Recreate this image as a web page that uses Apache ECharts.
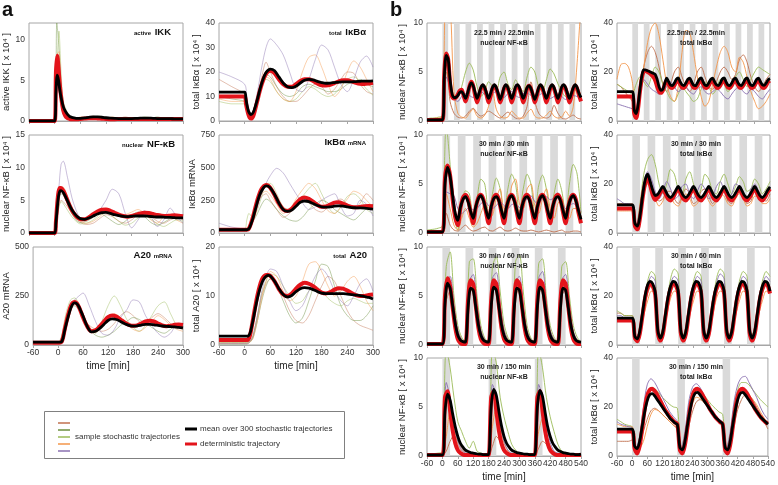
<!DOCTYPE html>
<html><head><meta charset="utf-8">
<script src="https://cdn.jsdelivr.net/npm/echarts@6/dist/echarts.min.js"></script>
<style>html,body{margin:0;padding:0;background:#fff}#c{width:778px;height:485px}</style>
</head><body><div id="c"></div>
<script>
// ---------------- DATA ----------------
// panel a time grids
const tA = [-60,-30,0,3,6,9,12,15,20,25,30,35,40,45,50,55,60,70,80,90,100,110,120,130,140,150,160,170,180,190,200,210,220,230,240,250,260,270,280,290,300];
const tAs = [-60,-30,0,5,10,15,20,30,40,50,60,75,90,105,120,135,150,165,180,195,210,225,240,255,270,285,300];

// a1 active IKK
const ikkMean = [0,0,0,3.5,5.6,5.0,3.8,2.9,1.8,1.2,0.8,0.55,0.45,0.38,0.33,0.32,0.33,0.38,0.45,0.5,0.5,0.46,0.4,0.35,0.32,0.3,0.3,0.3,0.3,0.32,0.35,0.36,0.35,0.33,0.3,0.28,0.28,0.28,0.27,0.27,0.26];
const ikkDet = [0,0,0,6.0,8.0,6.5,4.5,3.0,1.3,0.6,0.35,0.25,0.2,0.2,0.2,0.22,0.25,0.3,0.35,0.35,0.32,0.28,0.25,0.22,0.22,0.24,0.26,0.26,0.25,0.24,0.24,0.25,0.25,0.24,0.23,0.23,0.23,0.23,0.23,0.23,0.23];
const ikkRust = [0,0,0,7,4,2,1,0.5,0.3,0.2,0.2,0.4,0.6,0.3,0.2,0.1,0.3,0.5,0.3,0.2,0.4,0.3,0.2,0.3,0.2,0.2,0.3];
const ikkDkGreen = [0,0,0,12,9,4,1.5,0.6,0.3,0.2,0.1,0.3,0.2,0.5,0.3,0.2,0.2,0.3,0.4,0.2,0.2,0.3,0.5,0.3,0.2,0.3,0.2];
const ikkGreen = [0,0,0,6,11,6,2.5,1,0.4,0.3,0.2,0.2,0.4,0.6,0.4,0.2,0.2,0.3,0.2,0.3,0.5,0.4,0.2,0.2,0.3,0.2,0.2];
const ikkOrange = [0,0,0,8,8.5,4,1.5,0.7,0.4,0.3,0.5,0.4,0.3,0.2,0.3,0.5,0.3,0.2,0.2,0.4,0.3,0.2,0.3,0.4,0.2,0.2,0.2];
const ikkPurple = [0,0,0,5,7,3.5,1.5,0.6,0.3,0.2,0.2,0.3,0.5,0.4,0.2,0.3,0.2,0.4,0.3,0.2,0.2,0.3,0.2,0.2,0.3,0.3,0.2];

// a2 total IkBa
const ikbMean = [11.8,11.8,11.8,9,6,4,3,2.6,3.5,6,9,12.5,15.5,18,19.8,20.8,21.2,20.5,18,15.5,14,13.6,14.2,15.5,16.6,17,16.8,16.2,15.7,15.4,15.5,15.7,15.9,16,16,16,16.1,16.2,16.3,16.3,16.4];
const ikbDet = [10,10,10,7,4.5,2.5,1.3,1.0,2,5,8.5,12,15,17.5,19.2,20.2,20.5,19.5,17,15,14,14,15,16.3,17,17,16.3,15.3,14.6,14.5,14.8,15.5,16.2,16.6,16.6,16.2,15.6,15.2,15.1,15.3,15.6];
const ikbPurple = [20,18,15,10,5,3,4,12,22,30,33.5,31,27,20,13,12,17,25,31,29,22,15,12,17,24,26.5,22];
const ikbOrange = [9,8,8,6,3,2,3,8,15,18,17,12,9,8,12,20,26,27,22,15,10,13,20,24.5,22,17,12];
const ikbGreen = [8,7,7,5,3,2,2.5,9,15,17,16,12,9,8,9,12,14,13,11,10,11,14,17,18,16,13,10.5];
const ikbRust = [17,14,11,8,4,2,3,10,18,24,20,14,10,8,8,10,13,15,14,11,13,17,20,19.5,15,12,11];
const ikbDkGreen = [10,9,8,6,3,1.5,2.5,9,16,19,18,14,11,10,11,14,15,14,13,12,12,13,15,16,17,15,14];

// a3 nuclear NF-kB
const nfkMean = [0,0,0,1.5,3.8,5.6,6.4,6.5,6.2,5.6,4.9,4.2,3.6,3.1,2.7,2.4,2.2,2.1,2.3,2.6,2.9,3.1,3.15,3.0,2.8,2.65,2.55,2.5,2.55,2.6,2.6,2.6,2.55,2.5,2.45,2.45,2.4,2.4,2.35,2.3,2.3];
const nfkDet = [0,0,0,1.8,4.5,6.3,6.9,6.9,6.5,5.8,5.0,4.2,3.5,3.0,2.6,2.3,2.1,2.1,2.4,2.9,3.3,3.55,3.6,3.4,3.1,2.8,2.6,2.5,2.6,2.8,3.0,3.1,3.05,2.9,2.75,2.65,2.6,2.65,2.7,2.65,2.55];
const nfkPurple = [0,0,0,3,7,10.5,11,8.5,5.5,3.5,2.3,2,2.5,3.5,5,6.7,6,3,0.8,2,3.4,2.5,1,2,3.8,2.5,1.5];
const nfkOrange = [0,0,0,2.5,5.5,7,7,5.5,3.5,2.3,1.8,1.5,1.8,2.5,3.2,3,2.5,2.8,3.2,3.6,3,2,1.5,2.5,2.7,2,1.5];
const nfkRust = [0,0,0,2,4,5,4.8,4,3,2.2,1.6,1.3,1.5,2.2,2.8,2.5,1.8,1.5,2,2.8,3,2.5,1.8,1.5,2,2.3,2];
const nfkGreen = [0,0,0,2,4,4.8,4.5,3.5,2.5,1.8,1.4,1.5,2,2.8,3.3,2.6,1.8,1.2,1.5,2.3,2.8,2.2,1.4,1,1.5,2,1.8];
const nfkDkGreen = [0,0,0,2.5,5,6,5.8,4.5,3,2,1.6,1.8,2.4,3,2.5,1.8,1.3,1.8,2.7,3.2,2.5,1.6,1.2,1.6,2.2,2.5,2.2];

// a4 IkBa mRNA
const ikbmMean = [25,25,25,25,26,30,45,70,120,180,240,290,325,350,360,358,345,295,230,180,165,175,205,235,245,240,225,210,200,198,200,205,207,205,200,195,193,192,190,187,183];
const ikbmDet = [25,25,25,25,26,30,48,75,130,195,255,305,340,360,368,362,345,290,225,180,168,185,225,260,272,262,240,215,200,203,218,232,235,225,210,200,197,200,205,207,205];
const ikbmPurple = [75,45,30,25,30,60,110,200,300,380,440,495,460,380,300,230,180,200,250,280,300,200,130,150,250,220,130];
const ikbmGreen = [20,20,30,100,150,130,110,180,280,380,380,300,200,180,240,280,340,380,300,200,150,200,280,300,260,180,150];
const ikbmOrange = [20,18,20,25,40,80,140,220,300,320,290,220,150,180,260,330,380,340,250,170,150,200,260,320,300,250,200];
const ikbmRust = [30,25,25,30,60,100,150,230,280,300,250,180,120,150,220,260,230,180,160,200,240,260,220,180,230,300,250];
const ikbmDkGreen = [20,20,20,25,30,60,90,150,220,260,240,180,130,100,90,120,180,220,250,230,180,150,120,100,140,190,220];

// a5 A20 mRNA
const a20mMean = [15,15,15,15,15,18,35,65,110,150,185,208,215,210,195,172,148,95,67,70,85,105,125,133,130,120,108,100,96,97,102,105,105,103,100,97,95,94,92,90,87];
const a20mDet = [12,12,12,12,13,18,38,70,118,160,195,215,220,213,195,168,140,95,70,75,95,120,142,150,145,130,115,103,98,100,110,120,124,120,110,100,96,98,103,104,102];
const a20mPurple = [10,10,15,20,40,80,130,200,230,250,265,200,120,60,50,80,140,180,230,220,150,100,60,40,60,100,90];
const a20mGreen = [15,15,15,25,60,120,170,230,240,210,150,90,60,120,200,250,200,130,90,70,100,150,200,220,160,100,80];
const a20mOrange = [12,12,12,20,50,100,150,210,230,200,140,90,70,90,130,160,140,110,80,70,90,120,150,130,100,80,70];
const a20mRust = [15,12,12,20,50,90,140,200,220,190,140,100,80,70,80,110,150,170,150,120,110,140,160,140,110,90,80];
const a20mDkGreen = [10,10,10,15,40,80,120,180,200,180,130,80,50,40,50,70,100,120,140,130,110,90,70,60,80,100,90];

// a6 total A20
const a20Mean = [1.8,1.8,1.8,1.8,1.8,1.9,2.3,3.2,5.2,7.5,9.6,11.3,12.6,13.5,14,14.2,14.1,13,11.5,10.3,9.8,10.1,10.9,11.5,11.7,11.6,11.3,10.9,10.6,10.5,10.5,10.5,10.5,10.5,10.4,10.3,10.2,10.1,9.9,9.7,9.4];
const a20Det = [1,1,1,1,1,1.2,1.8,3,5.5,8,10.2,12,13.3,14,14.3,14.3,14.1,13,11.4,10.3,10,10.5,11.5,12.3,12.7,12.5,12,11.3,10.7,10.5,10.8,11.3,11.6,11.5,11.1,10.6,10.2,10.0,10.0,10.2,10.3];
const a20Purple = [0.3,0.3,0.3,0.3,0.5,1,2,6,11,14,15.5,15,12,9,7,8,11,14,15.5,14,11,9,8,10,12.5,13.5,11];
const a20Green = [0.5,0.5,0.5,0.5,0.7,1,2,6,10.5,13,14.5,14,12,10,8.5,9,11,12,11,9.5,8.5,8,9,9.5,9,8.5,8.5];
const a20Orange = [0.3,0.3,0.3,0.3,0.5,0.8,1.5,5,9.5,13,15,14,11,9,10,13,16.5,17,15,12,10,11,13,14,12,9,7];
const a20Rust = [0.5,0.5,0.5,0.5,0.7,1,2,6,10,12.5,13.5,12.5,10,7,5,4.5,6,9,12,14,13,10,7,5,4,3.5,3];
const a20DkGreen = [0.2,0.2,0.2,0.2,0.4,0.8,1.5,5,9,12,13.5,12,9,6,4.5,5.5,9,13,16.5,16,12,8,6,5,5,6,8];

// panel b time grids
const tB1 = [-60,-30,0,7.5,15,22.5,30,37.5,45,52.5,60,67.5,75,82.5,90,97.5,105,112.5,120,127.5,135,142.5,150,157.5,165,172.5,180,187.5,195,202.5,210,217.5,225,232.5,240,247.5,255,262.5,270,277.5,285,292.5,300,307.5,315,322.5,330,337.5,345,352.5,360,367.5,375,382.5,390,397.5,405,412.5,420,427.5,435,442.5,450,457.5,465,472.5,480,487.5,495,502.5,510,517.5,525,532.5,540];
const tB3 = [-60,-30,0,10,20,30,40,50,60,70,80,90,100,110,120,130,140,150,160,170,180,190,200,210,220,230,240,250,260,270,280,290,300,310,320,330,340,350,360,370,380,390,400,410,420,430,440,450,460,470,480,490,500,510,520,530,540];
const tBs = [-60,-45,-30,-15,0,15,30,45,60,75,90,105,120,135,150,165,180,195,210,225,240,255,270,285,300,315,330,345,360,375,390,405,420,435,450,465,480,495,510,525,540];

// stimulation pulses (on intervals, min)
const pulses22 = [[0,22.5],[45,67.5],[90,112.5],[135,157.5],[180,202.5],[225,247.5],[270,292.5],[315,337.5],[360,382.5],[405,427.5],[450,472.5],[495,517.5]];
const pulses30_30 = [[0,30],[60,90],[120,150],[180,210],[240,270],[300,330],[360,390],[420,450],[480,510]];
const pulses30_60 = [[0,30],[90,120],[180,210],[270,300],[360,390],[450,480]];
const pulses30_150 = [[0,30],[180,210],[360,390]];

// b1 22.5/22.5 nuclear NF-kB
const b1Mean = [0.1,0.1,0.1,4.5,6.7,6.3,4.2,2.8,2.4,2.4,2.6,2.9,3.0,2.7,2.3,2.8,3.5,3.9,3.6,2.9,2.3,2.8,3.4,3.7,3.4,2.8,2.3,2.8,3.4,3.7,3.4,2.8,2.2,2.7,3.4,3.7,3.4,2.8,2.3,2.8,3.5,3.7,3.4,2.8,2.3,2.8,3.4,3.6,3.3,2.7,2.2,2.7,3.4,3.7,3.4,2.8,2.3,2.8,3.4,3.7,3.4,2.8,2.3,2.8,3.5,3.7,3.4,2.8,2.3,2.8,3.4,3.7,3.4,2.8,2.4];
const b1Det = [0.1,0.1,0.1,5.0,6.9,6.3,3.8,2.5,2.3,2.4,2.7,3.1,3.2,2.6,2.0,2.6,3.5,4.0,3.6,2.6,1.9,2.5,3.3,3.6,3.3,2.6,1.9,2.5,3.3,3.6,3.3,2.6,1.9,2.5,3.3,3.6,3.3,2.6,1.9,2.5,3.3,3.6,3.3,2.6,1.9,2.5,3.3,3.6,3.3,2.6,1.9,2.5,3.3,3.6,3.3,2.6,1.9,2.5,3.3,3.6,3.3,2.6,1.9,2.5,3.3,3.6,3.3,2.6,1.9,2.5,3.3,3.6,3.3,2.6,2.0];
const b1Orange = [0.2,0.2,0.3,0.3,0.5,14,12,3,0.8,0.4,0.3,0.8,1.2,0.5,0.3,0.6,1.5,3,1.2,0.5,0.3,0.4,1,0.6,0.3,0.3,0.8,1.2,0.5,0.3,0.3,0.6,1,0.5,0.3,0.4,1,0.5,1.5,6,12];
const b1Rust = [0.1,0.1,0.1,0.1,0.2,6,2,0.8,0.4,0.3,0.5,1,1.3,0.8,0.5,0.7,1,0.8,0.5,0.3,0.6,0.9,0.6,0.3,0.2,0.5,1.5,4,2,0.8,0.4,0.3,0.5,1.6,0.8,0.3,0.2,0.4,0.6,0.3,0.2];
const b1Green = [0.2,0.3,0.3,0.4,0.5,5,3.5,2.2,2.5,3.5,5,5.9,5.2,3.5,2.5,3,4,3.5,3,4.5,5,3.8,3.2,4.2,3.5,3,4.5,5.5,5,3.5,3,4.2,5.3,4.8,3.8,3,2.5,2.8,3.2,3,2.8];
const b1Purple = [0.1,0.1,0.1,0.1,0.2,4.5,3.5,2.3,2,2.5,2.8,2.6,2.4,2.8,3,2.7,2.5,2.8,3.0,2.6,2.4,2.8,3,2.6,2.4,2.8,2.9,2.6,2.3,2.6,2.8,2.6,2.3,2.5,2.7,2.5,2.2,2.4,2.6,2.5,2.3];

// b2 22.5/22.5 total IkBa
const b2Mean = [12,12,12,4.5,3,6.5,13,18.5,21,20.8,20.5,20.2,19.8,19.5,19,17,14,12.5,13,15.5,17.5,16,14.7,14.5,15.5,17,17.6,16,14.8,14.5,15.5,17,17.5,16,14.7,14.4,15.5,17,17.6,16,14.7,14.5,15.6,17,17.5,16,14.8,14.5,15.5,17.1,17.6,16,14.7,14.5,15.5,17,17.5,16,14.8,14.5,15.5,17,17.6,16,14.7,14.5,15.5,17,17.5,16,14.8,14.6,15.5,16.8,17.3];
const b2Det = [10,10,10,3,1.2,5,12,17.5,20.3,20.5,20,19.5,18.8,18,16.5,14,12,11.5,12.5,15,16.5,15,13.7,13.5,14.5,16,16.8,15,13.7,13.5,14.5,16,16.8,15,13.7,13.5,14.5,16,16.8,15,13.7,13.5,14.5,16,16.8,15,13.7,13.5,14.5,16,16.8,15,13.7,13.5,14.5,16,16.8,15,13.7,13.5,14.5,16,16.8,15,13.7,13.5,14.5,16,16.8,15,13.7,13.5,14.5,16,16.5];
const b2Orange = [17,23,23.5,22,16,3,10,22,32,38,40,35,25,15,10,8,14,28,37,36,28,18,10,6,8,15,22,28,30.5,28,22,20,26,24,18,12,8,5,6,8,11];
const b2Rust = [15,14,12,10,8,3,12,22,28,30.5,28,22,15,12,15,20,22,18,14,12,15,20,22,18,14,13,16,20,22,20,17,19,25,27,24,18,14,12,14,17,19];
const b2Green = [15,14,13,12,11,15,18,16,14,18,22,20,15,12,9,8,11,14,12,10,8,9,13,16,14,11,13,17,15,12,14,18,20,17,14,17,20,22,21,20,19];
const b2Purple = [7,6.5,6,5.5,5,4,10,17,15,13,12,11,12,14,16,14,12,13,14,12,11,13,14,12,11,12,13,12,10,9,11,13,14,12,11,13,12,10,9,11,13];

// b3 30/30 nuclear NF-kB
const b3Mean = [0.1,0.1,0.1,5.0,6.7,5.8,3.8,2.0,1.3,2.6,3.4,3.7,3.2,2.2,1.5,2.7,3.5,3.8,3.3,2.3,1.5,2.7,3.5,3.7,3.3,2.3,1.5,2.7,3.5,3.8,3.3,2.3,1.5,2.7,3.5,3.7,3.3,2.3,1.5,2.7,3.5,3.8,3.3,2.3,1.5,2.7,3.5,3.7,3.3,2.3,1.5,2.7,3.5,3.8,3.3,2.3,1.4];
const b3Det = [0.1,0.1,0.1,5.6,6.9,5.9,3.4,1.6,0.8,2.5,3.6,3.9,3.4,2.1,1.0,2.6,3.6,3.9,3.4,2.1,1.0,2.6,3.6,3.9,3.4,2.1,1.0,2.6,3.6,3.9,3.4,2.1,1.0,2.6,3.6,3.9,3.4,2.1,1.0,2.6,3.6,3.9,3.4,2.1,1.0,2.6,3.6,3.9,3.4,2.1,1.0,2.6,3.6,3.9,3.4,2.1,1.0];
const b3Green = [0.3,0.35,0.4,0.5,0.7,11,7,2,0.3,3,4.3,4,1.5,3.5,5.5,5,2,4,5.6,4.5,2,4.5,6,5,2,4.5,6,5,2,4.8,5.9,4.5,2,4,5.5,4.3,2,5,7,6,2];
const b3Purple = [0.1,0.1,0.1,0.1,0.1,4.2,4,3.8,2.5,2,2.3,2.6,2.4,2.5,3.0,3.2,2.8,2.5,2.8,3.2,2.8,2.5,2.9,3.0,2.6,3.0,3.5,3.8,3.2,3.0,3.5,3.7,3.4,3.6,4.1,3.3,2.5,2.8,3.0,2.7,2.2];
const b3Orange = [0.1,0.1,0.1,0.1,0.1,4,2.5,0.8,0.3,1.5,2.5,1.5,0.6,1,2,3,1.5,1.8,3.5,4.5,2.5,2.5,4.8,5.5,3,2.5,4.5,5,2.8,2,3.5,4.5,2.5,1.5,3,3.5,2,1.5,2.5,2.5,1.5];
const b3Rust = [0.1,0.1,0.1,0.1,0.1,2,0.8,0.3,0.2,0.5,0.8,0.4,0.2,0.3,0.5,0.6,0.3,0.2,0.4,0.6,0.3,0.2,0.3,0.5,0.3,0.2,0.2,0.3,0.2,0.1,0.2,0.3,0.2,0.1,0.2,0.3,0.1,0.1,0.2,0.2,0.1];

// b4 30/30 total IkBa
const b4Mean = [11.5,11.5,11.5,4,2.8,7,15,21.5,24,21,17.5,15.3,15.8,17.5,19,17.3,15.3,14.5,15.5,17.3,19,17.3,15.3,14.5,15.5,17.3,19,17.3,15.3,14.5,15.5,17.3,19,17.3,15.3,14.5,15.5,17.3,19,17.3,15.3,14.5,15.5,17.3,19,17.3,15.3,14.5,15.5,17.3,19,17.3,15.3,14.5,15.5,17.3,18.8];
const b4Det = [10,10,10,3,1.5,6,14,20,22.5,19.5,15.5,13.5,14.5,16.5,18,16,14,13.3,14.5,16.5,18,16,14,13.3,14.5,16.5,18,16,14,13.3,14.5,16.5,18,16,14,13.3,14.5,16.5,18,16,14,13.3,14.5,16.5,18,16,14,13.3,14.5,16.5,18,16,14,13.3,14.5,16.5,18];
const b4Green = [10,10,10,10,10,3,12,24,30,32,28,20,16,20,26,24,18,16,22,25,20,15,18,24,22,17,16,21,24,20,16,19,23,21,17,18,22,20,16,18,21];
const b4Purple = [14,13,12,12,11,3,10,20,25,22,17,14,17,21,18,14,15,19,20,16,14,17,20,18,14,15,19,21,17,14,16,20,19,15,14,18,20,17,14,16,19];
const b4Orange = [9,9,9,9,9,2,8,16,20,18,14,11,13,16,15,12,11,14,16,14,11,12,15,16,13,11,13,16,15,12,11,14,16,14,11,12,15,15,12,12,14];
const b4Rust = [12,12,12,12,12,3,9,18,22,20,16,13,14,17,17,14,12,15,18,16,12,13,17,18,15,12,14,17,17,13,12,15,18,16,12,13,17,17,14,13,16];

// b5 30/60 nuclear NF-kB
const b5Mean = [0.1,0.1,0.1,4.2,6.3,5.8,4.0,2.2,1.0,0.5,0.35,0.3,3.8,5.8,5.6,3.9,2.1,1.0,0.5,0.35,0.3,3.9,5.9,5.6,3.9,2.1,1.0,0.5,0.35,0.3,3.8,5.8,5.6,3.9,2.1,1.0,0.5,0.35,0.3,3.9,5.9,5.6,3.9,2.1,1.0,0.5,0.35,0.3,3.8,5.8,5.6,3.9,2.1,1.0,0.5,0.35,0.3];
const b5Det = [0.1,0.1,0.1,5.0,6.8,6.0,3.8,1.8,0.6,0.2,0.1,0.1,4.6,6.6,6.2,4.0,1.8,0.6,0.2,0.1,0.1,4.6,6.6,6.2,4.0,1.8,0.6,0.2,0.1,0.1,4.6,6.6,6.2,4.0,1.8,0.6,0.2,0.1,0.1,4.6,6.6,6.2,4.0,1.8,0.6,0.2,0.1,0.1,4.6,6.6,6.2,4.0,1.8,0.6,0.2,0.1,0.1];
const b5Green = [0.2,0.2,0.2,0.2,0.2,8,9.5,5,2,0.8,0.3,8.5,8.8,5,2,0.7,0.3,8,9,5.5,2.2,0.8,0.3,8.5,9.2,5.5,2,0.7,0.3,8.3,8.8,5,2,0.8,0.3,8,8.5,5,2,0.8,0.3];
const b5Purple = [0.1,0.1,0.1,0.1,0.1,6.5,7,4,1.5,0.5,0.2,6.5,7.2,4,1.5,0.5,0.2,6.8,7.4,4.2,1.5,0.5,0.2,6.5,7,4,1.4,0.5,0.2,6.8,7.5,4.3,1.5,0.5,0.2,6.6,7.2,4,1.4,0.5,0.2];
const b5Orange = [0.1,0.1,0.1,0.1,0.1,5.5,6,3.5,1.2,0.4,0.1,5.8,6.3,3.5,1.2,0.4,0.1,6,6.5,3.8,1.2,0.4,0.1,5.5,6.2,3.5,1.1,0.4,0.1,5.8,6.4,3.8,1.2,0.4,0.1,5.6,6,3.5,1.1,0.4,0.1];
const b5Rust = [0.1,0.1,0.1,0.1,0.1,4.5,5.5,3.5,1.5,0.6,0.2,5,5.8,3.8,1.5,0.6,0.2,5.2,6,4,1.6,0.6,0.2,4.8,5.8,3.8,1.5,0.6,0.2,5,6,4,1.5,0.6,0.2,5,5.6,3.6,1.4,0.5,0.2];

// b6 30/60 total IkBa
const b6Mean = [11,11,11,3.5,2.5,6,13,20,24.5,26,25,21.5,6,2.8,5.5,12.5,19.5,24,26,25.5,22,6,2.8,5.5,12.5,19.5,24,26,25.5,22,6,2.8,5.5,12.5,19.5,24,26,25.5,22,6,2.8,5.5,12.5,19.5,24,26,25.5,22,6,2.8,5.5,12.5,19.5,24,26,25.5,22];
const b6Det = [10,10,10,3,1.5,5,12,19,23.5,25,24,20.5,5,1.8,4.5,11.5,18.5,23,25,24.5,21,5,1.8,4.5,11.5,18.5,23,25,24.5,21,5,1.8,4.5,11.5,18.5,23,25,24.5,21,5,1.8,4.5,11.5,18.5,23,25,24.5,21,5,1.8,4.5,11.5,18.5,23,25,24.5,21];
const b6Green = [14,13,12,12,12,3,6,16,26,30,28,3,7,17,27,31,29,3,7,16,26,30,28,3,7,17,27,31,29,3,7,16,26,30,28,3,7,17,26,30,28];
const b6Purple = [12,12,11,11,11,3,6,15,24,28,26,3,6,15,25,28,26,3,6,15,24,28,26,3,6,15,25,29,27,3,6,15,24,28,26,3,6,15,24,28,26];
const b6Orange = [10,10,10,10,10,2.5,5,12,18,22,21,2.5,5,12,19,22,21,2.5,5,12,18,22,21,2.5,5,12,19,22,21,2.5,5,12,18,22,21,2.5,5,12,18,22,21];
const b6Rust = [13,13,12,12,12,3,6,14,21,24,23,3,6,14,21,24,23,3,6,14,21,24,23,3,6,14,21,24,23,3,6,14,21,24,23,3,6,14,21,24,23];

// b7 30/150 nuclear NF-kB
const b7Mean = [0.1,0.1,0.1,4.5,6.3,5.7,4.3,3.0,2.0,1.3,0.9,0.6,0.45,0.35,0.3,0.25,0.2,0.2,0.15,0.15,0.15,5.0,6.8,6.2,4.6,3.1,2.0,1.3,0.9,0.6,0.45,0.35,0.3,0.25,0.2,0.2,0.15,0.15,0.15,5.0,6.7,6.1,4.5,3.0,2.0,1.3,0.9,0.6,0.45,0.35,0.3,0.25,0.2,0.2,0.15,0.15,0.2];
const b7Det = [0.1,0.1,0.1,6.0,6.6,4.6,2.6,1.3,0.6,0.3,0.15,0.1,0.1,0.1,0.1,0.1,0.1,0.1,0.1,0.1,0.1,6.0,6.6,4.6,2.6,1.3,0.6,0.3,0.15,0.1,0.1,0.1,0.1,0.1,0.1,0.1,0.1,0.1,0.1,6.0,6.6,4.6,2.6,1.3,0.6,0.3,0.15,0.1,0.1,0.1,0.1,0.1,0.1,0.1,0.1,0.1,0.1];
const b7Green = [0.2,0.2,0.25,0.3,0.4,11,9,6,3.5,2.5,1.5,0.8,1.5,0.5,0.3,0.2,0.2,11,9.5,6,4,2.5,1.2,0.6,0.3,0.2,0.2,0.2,0.2,11,9,6,4,2.5,1.2,0.5,0.3,0.2,0.2,0.2,0.2];
const b7Purple = [0.1,0.1,0.1,0.1,0.1,7.5,6,3.5,1.5,0.6,0.3,0.2,0.1,0.1,0.1,0.1,0.1,7.3,6.2,3.5,1.5,0.6,0.3,0.2,0.1,0.1,0.1,0.1,0.1,7.3,6,3.3,1.4,0.5,0.3,0.2,0.1,0.1,0.1,0.1,0.1];
const b7Orange = [0.1,0.1,0.1,0.1,0.1,2,4.5,3,1.2,0.5,0.2,0.1,0.1,0.1,0.1,0.1,0.1,3,5,3,1.3,0.5,0.2,0.1,0.1,0.1,0.1,0.1,0.1,2.5,3.8,2.5,1,0.4,0.2,0.1,0.1,0.1,0.1,0.1,0.1];
const b7Rust = [0.1,0.1,0.1,0.1,0.1,0.5,1.5,2.1,1.5,0.8,0.3,0.2,0.1,0.1,0.1,0.1,0.1,1,2,1.5,0.8,0.3,0.1,0.1,0.1,0.1,0.1,0.1,0.1,0.8,1.5,1.2,0.6,0.2,0.1,0.1,0.1,0.1,0.1,0.1,0.1];

// b8 30/150 total IkBa
const b8Mean = [11,11,11,4,3,6,12,18,22.5,25,25.5,24.5,23,21.5,20,18.5,17,15.5,14.5,13.5,12.8,3.5,2.5,6,12.5,18.5,23,25.5,26,25,23.5,22,20.5,19,17.5,16,15,14,13,3.5,2.5,6,12.5,18.5,23,25.5,26,25,23.5,22,20.5,19,17.5,16,15,14,13];
const b8Det = [10,10,10,3,1,4,11,19,24.5,27,27.5,26.5,25,23,21,19,17.5,16,14.8,13.8,13,2.5,1,4.5,11.5,19,24.5,27,27.5,26.5,25,23,21,19,17.5,16,14.8,13.8,13,2.5,1,4.5,11.5,19,24.5,27,27.5,26.5,25,23,21,19,17.5,16,14.8,13.8,13.2];
const b8Purple = [14,13,12.5,12,11.5,3,8,20,29,31.5,30,27,24,21,18,16,14,3,10,22,28,29.5,28,25,22,19,17,15,14,3,10,22,29,32,32.5,30,27,24,20,17,15];
const b8Green = [15,14,13,12.5,12,3,7,17,25,28,27.5,26,24,22.5,21,20,19.5,3,9,20,26,28,27,25,23,21,19.5,18,17,3,9,20,27,30,30,29,27,25,23,21.5,20];
const b8Orange = [13,12.5,12,12,12,3.5,3.5,6,12,17,19,18.5,17,15.5,14,12.5,11,2,6,15,21,24,23.5,22,20,18,16,14.5,13,2,6,16,23,26,26.5,25,23,21,18,15.5,13];
const b8Rust = [6,6,6,6,6.5,3.5,5,10,15,18.5,19.5,18.5,17,15.5,14,12.5,11,2,5,12,18,22,23,22,20,18,16,14,12,2,5,12,19,23,25,24.5,23,20,17,14,11];

// ---------------- LAYOUT / STYLE ----------------
const FONT = '"Liberation Sans", Arial, sans-serif';
const COL = {rust:'#c0704f', dkgreen:'#6b8e3e', green:'#9bbb59', orange:'#f3964a', purple:'#8a70b0'};
const RED = '#e3141b';
const AX = '#a6a6a6';

const plots = [
 {g:[29,23,154,98], xMax:300, yMax:12, yInt:5, name:'active IKK [ x 10⁴ ]', gap:15, t:tA, mean:ikkMean, det:ikkDet, ts:tAs, s:[[ikkRust,'rust'],[ikkDkGreen,'dkgreen'],[ikkGreen,'green'],[ikkOrange,'orange'],[ikkPurple,'purple']], op:0.45},
 {g:[219,23,154,98], xMax:300, yMax:40, yInt:10, name:'total IκBα [ x 10⁴ ]', gap:17, t:tA, mean:ikbMean, det:ikbDet, ts:tAs, s:[[ikbRust,'rust'],[ikbDkGreen,'dkgreen'],[ikbGreen,'green'],[ikbOrange,'orange'],[ikbPurple,'purple']], op:0.45},
 {g:[29,135,154,98], xMax:300, yMax:15, yInt:5, name:'nuclear NF-κB [ x 10⁴ ]', gap:15, t:tA, mean:nfkMean, det:nfkDet, ts:tAs, s:[[nfkRust,'rust'],[nfkDkGreen,'dkgreen'],[nfkGreen,'green'],[nfkOrange,'orange'],[nfkPurple,'purple']], op:0.45},
 {g:[219,135,154,98], xMax:300, yMax:750, yInt:250, name:'IκBα mRNA', gap:17, t:tA, mean:ikbmMean, det:ikbmDet, ts:tAs, s:[[ikbmRust,'rust'],[ikbmDkGreen,'dkgreen'],[ikbmGreen,'green'],[ikbmOrange,'orange'],[ikbmPurple,'purple']], op:0.45},
 {g:[29,247,154,98], xMax:300, yMax:500, yInt:250, name:'A20 mRNA', gap:15, t:tA, mean:a20mMean, det:a20mDet, ts:tAs, s:[[a20mRust,'rust'],[a20mDkGreen,'dkgreen'],[a20mGreen,'green'],[a20mOrange,'orange'],[a20mPurple,'purple']], op:0.45, xLab:true},
 {g:[219,247,154,98], xMax:300, yMax:20, yInt:10, name:'total A20 [ x 10⁴ ]', gap:17, t:tA, mean:a20Mean, det:a20Det, ts:tAs, s:[[a20Rust,'rust'],[a20DkGreen,'dkgreen'],[a20Green,'green'],[a20Orange,'orange'],[a20Purple,'purple']], op:0.45, xLab:true},

 {g:[427,23,154,98], xMax:540, yMax:10, yInt:5, name:'nuclear NF-κB [ x 10⁴ ]', gap:20, t:tB1, mean:b1Mean, det:b1Det, ts:tBs, s:[[b1Rust,'rust'],[b1Green,'green'],[b1Orange,'orange'],[b1Purple,'purple']], op:0.9, bands:pulses22},
 {g:[617,23,153,98], xMax:540, yMax:40, yInt:20, name:'total IκBα [ x 10⁴ ]', gap:18, t:tB1, mean:b2Mean, det:b2Det, ts:tBs, s:[[b2Rust,'rust'],[b2Green,'green'],[b2Orange,'orange'],[b2Purple,'purple']], op:0.9, bands:pulses22},
 {g:[427,135,154,98], xMax:540, yMax:10, yInt:5, name:'nuclear NF-κB [ x 10⁴ ]', gap:20, t:tB3, mean:b3Mean, det:b3Det, ts:tBs, s:[[b3Rust,'rust'],[b3Green,'green'],[b3Orange,'orange'],[b3Purple,'purple']], op:0.9, bands:pulses30_30},
 {g:[617,135,153,98], xMax:540, yMax:40, yInt:20, name:'total IκBα [ x 10⁴ ]', gap:18, t:tB3, mean:b4Mean, det:b4Det, ts:tBs, s:[[b4Rust,'rust'],[b4Green,'green'],[b4Orange,'orange'],[b4Purple,'purple']], op:0.9, bands:pulses30_30},
 {g:[427,247,154,98], xMax:540, yMax:10, yInt:5, name:'nuclear NF-κB [ x 10⁴ ]', gap:20, t:tB3, mean:b5Mean, det:b5Det, ts:tBs, s:[[b5Rust,'rust'],[b5Green,'green'],[b5Orange,'orange'],[b5Purple,'purple']], op:0.9, bands:pulses30_60},
 {g:[617,247,153,98], xMax:540, yMax:40, yInt:20, name:'total IκBα [ x 10⁴ ]', gap:18, t:tB3, mean:b6Mean, det:b6Det, ts:tBs, s:[[b6Rust,'rust'],[b6Green,'green'],[b6Orange,'orange'],[b6Purple,'purple']], op:0.9, bands:pulses30_60},
 {g:[427,358,154,98], xMax:540, yMax:10, yInt:5, name:'nuclear NF-κB [ x 10⁴ ]', gap:20, t:tB3, mean:b7Mean, det:b7Det, ts:tBs, s:[[b7Rust,'rust'],[b7Green,'green'],[b7Orange,'orange'],[b7Purple,'purple']], op:0.9, bands:pulses30_150, xLab:true},
 {g:[617,358,153,98], xMax:540, yMax:40, yInt:20, name:'total IκBα [ x 10⁴ ]', gap:18, t:tB3, mean:b8Mean, det:b8Det, ts:tBs, s:[[b8Rust,'rust'],[b8Green,'green'],[b8Orange,'orange'],[b8Purple,'purple']], op:0.9, bands:pulses30_150, xLab:true}
];

const pair = (t, v) => t.map((x, i) => [x, v[i]]);
const grid = [], xAxis = [], yAxis = [], series = [];
plots.forEach((p, i) => {
  grid.push({left:p.g[0], top:p.g[1], width:p.g[2], height:p.g[3], show:true, borderColor:AX, borderWidth:1, backgroundColor:'transparent'});
  xAxis.push({type:'value', gridIndex:i, min:-60, max:p.xMax, interval:60,
    axisLine:{show:true, lineStyle:{color:AX}}, axisTick:{show:true, length:3, lineStyle:{color:AX}},
    splitLine:{show:false},
    axisLabel:{show:!!p.xLab, fontSize:8.5, color:'#333', fontFamily:FONT, margin:3},
    name:p.xLab ? 'time [min]' : '', nameLocation:'middle', nameGap:16,
    nameTextStyle:{fontSize:10, color:'#222', fontFamily:FONT}});
  yAxis.push({type:'value', gridIndex:i, min:0, max:p.yMax, interval:p.yInt,
    axisLine:{show:false}, axisTick:{show:false}, splitLine:{show:false},
    axisLabel:{fontSize:8.5, color:'#333', fontFamily:FONT, margin:4,
      formatter: v => (Math.abs(v % p.yInt) < 1e-9 ? String(v) : '')},
    name:p.name, nameLocation:'middle', nameRotate:90, nameGap:p.gap,
    nameTextStyle:{fontSize:9.5, color:'#222', fontFamily:FONT}});
  if (p.bands) {
    series.push({type:'line', xAxisIndex:i, yAxisIndex:i, data:[[-60,0]], symbol:'none', lineStyle:{width:0}, silent:true, z:1,
      markArea:{silent:true, itemStyle:{color:'#dadada'}, data:p.bands.map(b => [{xAxis:b[0]}, {xAxis:b[1]}])}});
  }
  p.s.forEach(([arr, c]) => series.push({type:'line', xAxisIndex:i, yAxisIndex:i, data:pair(p.ts, arr),
    symbol:'none', smooth:0.3, silent:true, z:2, lineStyle:{color:COL[c], width:1, opacity:p.op}}));
  series.push({type:'line', xAxisIndex:i, yAxisIndex:i, data:pair(p.t, p.det), symbol:'none', smooth:0.3, silent:true, z:3,
    lineStyle:{color:RED, width:4}});
  series.push({type:'line', xAxisIndex:i, yAxisIndex:i, data:pair(p.t, p.mean), symbol:'none', smooth:0.3, silent:true, z:4,
    lineStyle:{color:'#000', width:2.8}});
});

// ---------------- ANNOTATIONS ----------------
const txt = (x, y, text, o) => ({type:'text', x, y, silent:true, z:50, style:Object.assign({text, fontFamily:FONT, fill:'#111'}, o)});
const aTitle = (x, y, small, big) => txt(x, y, '{s|' + small + '}{b|' + big + '}', {align:'right', verticalAlign:'middle',
  rich:{s:{fontSize:6, fontWeight:'bold', fontFamily:FONT, fill:'#111', verticalAlign:'bottom', padding:[0,2,1,0]}, b:{fontSize:9.5, fontWeight:'bold', fontFamily:FONT, fill:'#111', verticalAlign:'bottom'}}});
const bTitle = (x, y, l1, l2) => txt(x, y, l1 + '\n' + l2, {align:'center', verticalAlign:'top', fontSize:7, fontWeight:'bold', lineHeight:10, fill:'#222'});

const graphic = [
  txt(2, 0, 'a', {fontSize:20, fontWeight:'bold', verticalAlign:'top'}),
  txt(390, 0, 'b', {fontSize:20, fontWeight:'bold', verticalAlign:'top'}),
  aTitle(171, 32, 'active ', 'IKK'),
  aTitle(366, 32, 'total ', 'IκBα'),
  aTitle(175, 144, 'nuclear ', 'NF-κB'),
  txt(366, 142, '{b|IκBα }{s|mRNA}', {align:'right', verticalAlign:'middle',
    rich:{s:{fontSize:6, fontWeight:'bold', fontFamily:FONT, fill:'#111', verticalAlign:'bottom', padding:[0,0,1,0]}, b:{fontSize:9.5, fontWeight:'bold', fontFamily:FONT, fill:'#111', verticalAlign:'bottom'}}}),
  txt(172, 255, '{b|A20 }{s|mRNA}', {align:'right', verticalAlign:'middle',
    rich:{s:{fontSize:6, fontWeight:'bold', fontFamily:FONT, fill:'#111', verticalAlign:'bottom', padding:[0,0,1,0]}, b:{fontSize:9.5, fontWeight:'bold', fontFamily:FONT, fill:'#111', verticalAlign:'bottom'}}}),
  aTitle(367, 255, 'total ', 'A20'),
  bTitle(504, 28, '22.5 min / 22.5min', 'nuclear NF-κB'),
  bTitle(696, 28, '22.5min / 22.5min', 'total IκBα'),
  bTitle(504, 139, '30 min / 30 min', 'nuclear NF-κB'),
  bTitle(696, 139, '30 min / 30 min', 'total IκBα'),
  bTitle(504, 251, '30 min / 60 min', 'nuclear NF-κB'),
  bTitle(696, 251, '30 min / 60 min', 'total IκBα'),
  bTitle(504, 362, '30 min / 150 min', 'nuclear NF-κB'),
  bTitle(696, 362, '30 min / 150 min', 'total IκBα'),
  // legend box
  {type:'rect', silent:true, z:40, shape:{x:44.5, y:411.5, width:300, height:47}, style:{fill:'#fff', stroke:'#808080', lineWidth:1}},
  {type:'line', silent:true, z:41, shape:{x1:58, y1:423, x2:70, y2:423}, style:{stroke:COL.rust, lineWidth:1.5}},
  {type:'line', silent:true, z:41, shape:{x1:58, y1:430, x2:70, y2:430}, style:{stroke:COL.dkgreen, lineWidth:1.5}},
  {type:'line', silent:true, z:41, shape:{x1:58, y1:437, x2:70, y2:437}, style:{stroke:COL.green, lineWidth:1.5}},
  {type:'line', silent:true, z:41, shape:{x1:58, y1:444, x2:70, y2:444}, style:{stroke:COL.orange, lineWidth:1.5}},
  {type:'line', silent:true, z:41, shape:{x1:58, y1:451, x2:70, y2:451}, style:{stroke:COL.purple, lineWidth:1.5}},
  txt(75, 437, 'sample stochastic trajectories', {fontSize:8, verticalAlign:'middle', fill:'#333'}),
  {type:'line', silent:true, z:41, shape:{x1:185, y1:429, x2:197, y2:429}, style:{stroke:'#000', lineWidth:3}},
  txt(200, 429, 'mean over 300 stochastic trajectories', {fontSize:8, verticalAlign:'middle', fill:'#333'}),
  {type:'line', silent:true, z:41, shape:{x1:185, y1:444, x2:197, y2:444}, style:{stroke:RED, lineWidth:3}},
  txt(200, 444, 'deterministic trajectory', {fontSize:8, verticalAlign:'middle', fill:'#333'})
];

const chart = echarts.init(document.getElementById('c'), null, {renderer:'canvas'});
chart.setOption({animation:false, backgroundColor:'#fff', textStyle:{fontFamily:FONT}, grid, xAxis, yAxis, series, graphic});
</script></body></html>
